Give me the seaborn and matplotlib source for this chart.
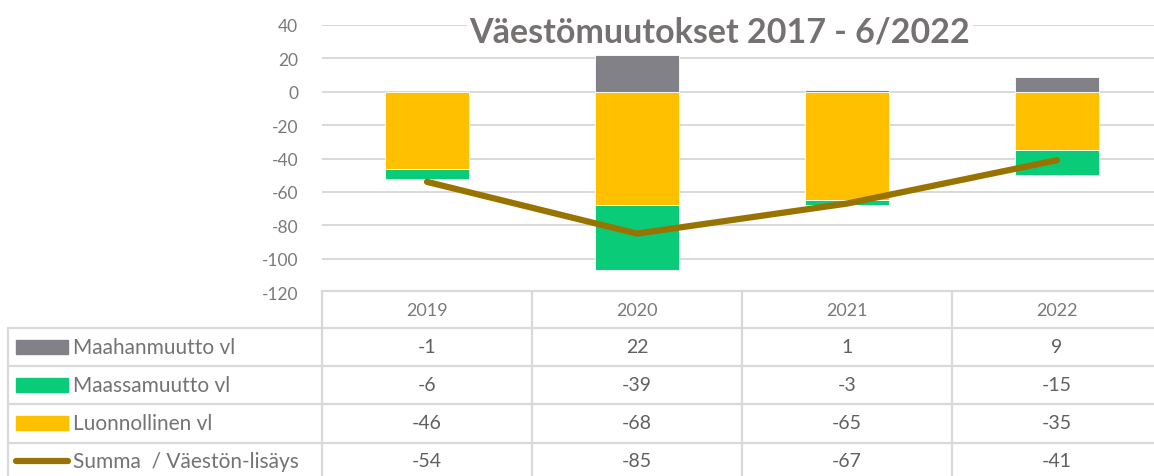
import numpy as np
import pandas as pd
import matplotlib
matplotlib.use("Agg")
import matplotlib.pyplot as plt
from matplotlib.lines import Line2D
from matplotlib.patches import Rectangle
from matplotlib.transforms import blended_transform_factory
import seaborn as sns

# data
years = ["2019", "2020", "2021", "2022"]
maahanmuutto = [-1, 22, 1, 9]
maassamuutto = [-6, -39, -3, -15]
luonnollinen = [-46, -68, -65, -35]
summa = [-54, -85, -67, -41]

series_names = ["Maahanmuutto vl", "Maassamuutto vl", "Luonnollinen vl", "Summa  / Väestön-lisäys"]
colors = {"Maahanmuutto vl": "#828187", "Maassamuutto vl": "#0ACC78",
          "Luonnollinen vl": "#FFC000", "Summa  / Väestön-lisäys": "#997300"}

sns.set_theme(style="white")
plt.rcParams['font.family'] = ['Lato', 'DejaVu Sans']
plt.rcParams['axes.unicode_minus'] = False

W, H = 1154, 477
fig = plt.figure(figsize=(W / 100, H / 100), dpi=100)


def fx(px):
    return px / W


def fy(py):
    return 1 - py / H


ax = fig.add_axes([fx(322), fy(293), fx(1162 - 322), fy(26) - fy(293)])

x = np.arange(len(years))
bw = 0.4
# Excel stacks the first series next to the axis, positives and negatives apart
stack = [("Luonnollinen vl", luonnollinen), ("Maassamuutto vl", maassamuutto),
         ("Maahanmuutto vl", maahanmuutto)]
pos = np.zeros(len(years))
neg = np.zeros(len(years))
for name, vals in stack:
    vals = np.array(vals, dtype=float)
    bottom = np.where(vals >= 0, pos, neg)
    ax.bar(x, vals, bw, bottom=bottom, color=colors[name], edgecolor="white",
           linewidth=0.6, zorder=2)
    pos = np.where(vals >= 0, pos + vals, pos)
    neg = np.where(vals < 0, neg + vals, neg)

df = pd.DataFrame({"x": x, "summa": summa})
sns.lineplot(data=df, x="x", y="summa", ax=ax, color=colors["Summa  / Väestön-lisäys"],
             linewidth=4.5, solid_capstyle="round", zorder=3)

ax.set_xlim(-0.5, len(years) - 0.5)
ax.set_ylim(-120, 40)
ax.set_yticks(np.arange(-120, 41, 20))
ax.yaxis.grid(True, color="#d9d9d9", linewidth=1.4, zorder=0)
ax.set_axisbelow(True)
ax.set_xticks([])
ax.set_xlabel("")
ax.set_ylabel("")
for s in ax.spines.values():
    s.set_visible(False)
ax.tick_params(axis="y", length=0, pad=17, labelsize=12.5, labelcolor="#7a7a7a")
for lab in ax.get_yticklabels():
    lab.set_horizontalalignment("right")

fig.text(fx(720), fy(33), "Väestömuutokset 2017 - 6/2022", ha="center", va="center",
         fontsize=24.5, fontweight="bold", color="#767171",
         bbox=dict(facecolor="white", edgecolor="none", pad=2))

# data table below the axis
line_c = "#d9d9d9"
col_edges = [322, 532, 742, 952, 1162]
row_lines = [329, 367, 405, 444]
fig.add_artist(Line2D([fx(322), fx(1162)], [fy(292), fy(292)], color=line_c, lw=1.6))
for ry in row_lines:
    fig.add_artist(Line2D([fx(8), fx(1162)], [fy(ry), fy(ry)], color=line_c, lw=1.6))
fig.add_artist(Line2D([fx(8), fx(8)], [fy(329), fy(480)], color=line_c, lw=1.6))
for cx in col_edges:
    fig.add_artist(Line2D([fx(cx), fx(cx)], [fy(292), fy(480)], color=line_c, lw=1.6))

trans = blended_transform_factory(ax.transData, fig.transFigure)
for i, yr in enumerate(years):
    fig.text(i, fy(311), yr, transform=trans, ha="center", va="center",
             fontsize=13, color="#7a7a7a")

table_rows = [maahanmuutto, maassamuutto, luonnollinen, summa]
row_centers = [348, 386, 424, 462]
for name, vals, cy in zip(series_names, table_rows, row_centers):
    for i, v in enumerate(vals):
        fig.text(i, fy(cy), str(v), transform=trans, ha="center", va="center",
                 fontsize=14, color="#606060")
    if name.startswith("Summa"):
        fig.add_artist(Line2D([fx(16), fx(68)], [fy(cy), fy(cy)], color=colors[name],
                              lw=4.5, solid_capstyle="round"))
    else:
        fig.add_artist(Rectangle((fx(16), fy(cy + 7)), fx(52), fy(cy - 7) - fy(cy + 7),
                                 transform=fig.transFigure, color=colors[name]))
    fig.text(fx(73), fy(cy), name, ha="left", va="center", fontsize=15, color="#737373")

fig.savefig("out.png", dpi=100)
